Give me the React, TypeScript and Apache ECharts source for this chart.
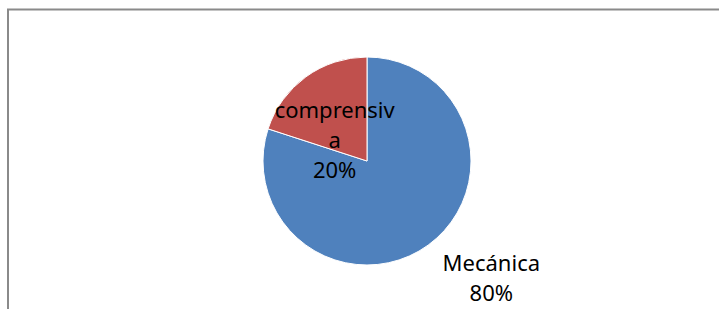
import React, { useEffect, useRef } from "react";
import * as echarts from "echarts";

const categories = ["Mecánica", "comprensiva"];
const values = [80, 20];
const colors = ["#4F81BD", "#C0504D"];

export default function App() {
  const ref = useRef<HTMLDivElement>(null);
  useEffect(() => {
    if (!ref.current) return;
    const chart = echarts.init(ref.current, null, { renderer: "svg" });
    const offsets = [
      [92, 72],
      [0, 22],
    ];
    chart.setOption({
      animation: false,
      backgroundColor: "#ffffff",
      graphic: [
        {
          type: "polyline",
          shape: { points: [[8, 309], [8, 9.5], [719, 9.5]] },
          style: { stroke: "#8a8a8a", lineWidth: 2, fill: "none" },
          silent: true,
        },
      ],
      series: [
        {
          type: "pie",
          center: [367, 161],
          radius: 104,
          startAngle: 90,
          clockwise: true,
          itemStyle: { borderColor: "#ffffff", borderWidth: 1 },
          labelLine: { show: false },
          data: categories.map((name, i) => ({
            name,
            value: values[i],
            itemStyle: { color: colors[i] },
            label: {
              show: true,
              position: "inside",
              offset: offsets[i],
              formatter: "{b}\n{d}%",
              color: "#000000",
              fontFamily: "Noto Sans",
              fontSize: 22,
              lineHeight: 30,
              width: 126,
              overflow: "breakAll",
              align: "center",
            },
          })),
        },
      ],
    });
    return () => chart.dispose();
  }, []);
  return (
    <div
      ref={ref}
      style={{ position: "fixed", left: 0, top: 0, width: 719, height: 309 }}
    />
  );
}
